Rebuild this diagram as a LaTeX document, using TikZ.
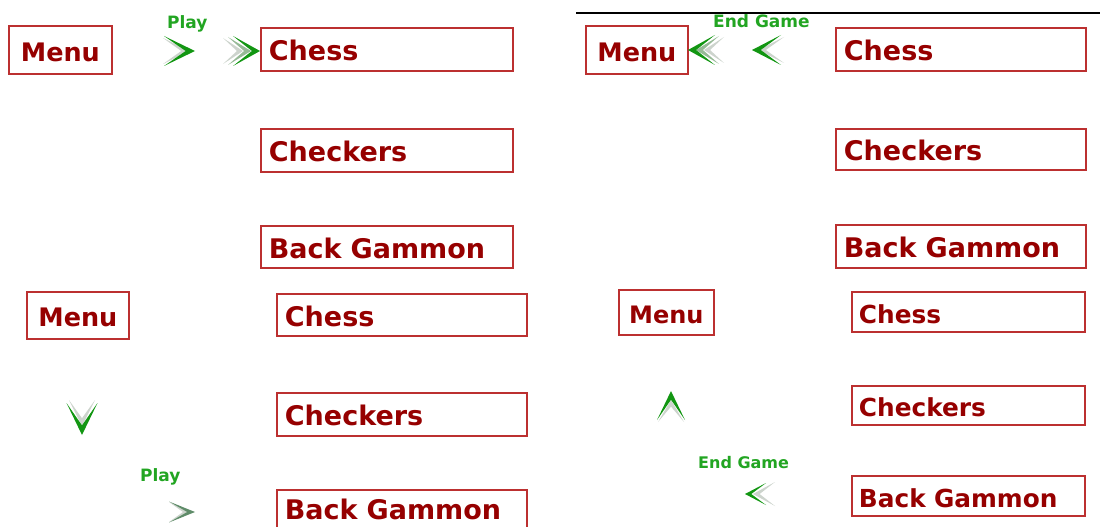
\documentclass[tikz,border=0pt]{standalone}
\usepackage{fontspec}
\setmainfont{DejaVu Sans}
\definecolor{boxred}{RGB}{188,48,48}
\definecolor{txtred}{RGB}{150,0,0}
\definecolor{agreen}{RGB}{18,150,18}
\definecolor{lgreen}{RGB}{34,165,34}
\definecolor{ghost}{RGB}{205,212,205}
\definecolor{ghostg}{RGB}{150,185,150}
\definecolor{dgreen}{RGB}{95,140,105}
% \chevr{x}{y}{angle}{length}{half height}{colour}
\newcommand\chevr[6]{%
  \fill[#6, shift={(#1,#2)}, rotate=#3] (0,0) -- (-#4,-#5) -- ({-0.3*#4},0) -- (-#4,#5) -- cycle;}
\begin{document}
\begin{tikzpicture}[x=1pt,y=-1pt,
  gbox/.style={draw=boxred, line width=1.8pt, rectangle, inner xsep=8pt, inner ysep=0pt,
    text=txtred, anchor=north west, align=left, font=\bfseries\fontsize{27}{30}\selectfont,
    execute at begin node={\rule{0pt}{23.5pt}}},
  mbox/.style={gbox, align=center, font=\bfseries\fontsize{25.5}{30}\selectfont},
  sbox/.style={gbox, inner xsep=7pt, font=\bfseries\fontsize{24.8}{28}\selectfont,
    execute at begin node={\rule{0pt}{21.5pt}}},
  smbox/.style={sbox, align=center, font=\bfseries\fontsize{24}{28}\selectfont},
  glabel/.style={text=lgreen, inner sep=0pt, anchor=north west, font=\bfseries\fontsize{17}{20}\selectfont},
  sglabel/.style={glabel, font=\bfseries\fontsize{16}{19}\selectfont}]
\useasboundingbox (0,0) rectangle (1100,527);

% ---------- top left panel ----------
\node[mbox, minimum width=103, minimum height=48, text width=87] (m1) at (8,25) {Menu};
\node[gbox, minimum width=252, minimum height=43, text width=236] (c1) at (260,27) {Chess};
\node[gbox, minimum width=252, minimum height=43, text width=236] (k1) at (260,128) {Checkers};
\node[gbox, minimum width=252, minimum height=42, text width=236] (b1) at (260,225) {Back Gammon};
\node[glabel] (p1) at (167,15) {Play};
\chevr{189}{51}{0}{26}{13}{ghost}
\chevr{195}{51}{0}{31}{15}{agreen}
\chevr{243}{51}{0}{20}{13}{ghost}
\chevr{251}{51}{0}{23}{14}{ghostg}
\chevr{260}{51}{0}{27}{15}{agreen}

% ---------- top right panel ----------
\coordinate (l1) at (576,13.5);
\coordinate (l2) at (1100,13.5);
\draw[line width=2pt] (l1) -- (l2);
\node[mbox, minimum width=102, minimum height=48, text width=86] (m2) at (585,25) {Menu};
\node[gbox, minimum width=250, minimum height=43, text width=234] (c2) at (835,27) {Chess};
\node[gbox, minimum width=250, minimum height=41, text width=234] (k2) at (835,128) {Checkers};
\node[gbox, minimum width=250, minimum height=43, text width=234] (b2) at (835,224) {Back Gammon};
\node[glabel] (e2) at (713,14) {End Game};
\chevr{704}{50}{180}{20}{13}{ghost}
\chevr{696}{50}{180}{23}{14}{ghostg}
\chevr{688}{50}{180}{27}{15}{agreen}
\chevr{758}{50}{180}{26}{13}{ghost}
\chevr{752}{50}{180}{29}{15}{agreen}

% ---------- bottom left panel ----------
\node[mbox, minimum width=102, minimum height=47, text width=86] (m3) at (26,291) {Menu};
\node[gbox, minimum width=250, minimum height=42, text width=234] (c3) at (276,293) {Chess};
\node[gbox, minimum width=250, minimum height=43, text width=234] (k3) at (276,392) {Checkers};
\node[gbox, minimum width=250, minimum height=43, text width=234,
      execute at begin node={\rule[-8pt]{0pt}{8pt}}] (b3) at (276,489) {Back Gammon};
\chevr{82}{426}{-90}{26}{13}{ghost}
\chevr{82}{435}{-90}{32}{15.5}{agreen}
\node[glabel] (p3) at (140,468) {Play};
\chevr{189}{512}{0}{20}{10}{ghost}
\chevr{195}{512}{0}{26}{10.5}{dgreen}

% ---------- bottom right panel ----------
\node[smbox, minimum width=95, minimum height=45, text width=81] (m4) at (618,289) {Menu};
\node[sbox, minimum width=233, minimum height=40, text width=219] (c4) at (851,291) {Chess};
\node[sbox, minimum width=233, minimum height=39, text width=219] (k4) at (851,385) {Checkers};
\node[sbox, minimum width=233, minimum height=40, text width=219] (b4) at (851,475) {Back Gammon};
\chevr{671}{400}{90}{22}{13}{ghost}
\chevr{671}{391}{90}{29}{14}{agreen}
\node[sglabel] (e4) at (698,456) {End Game};
\chevr{753}{494}{180}{22}{12}{ghost}
\chevr{745}{494}{180}{21}{11}{agreen}
\end{tikzpicture}
\end{document}
